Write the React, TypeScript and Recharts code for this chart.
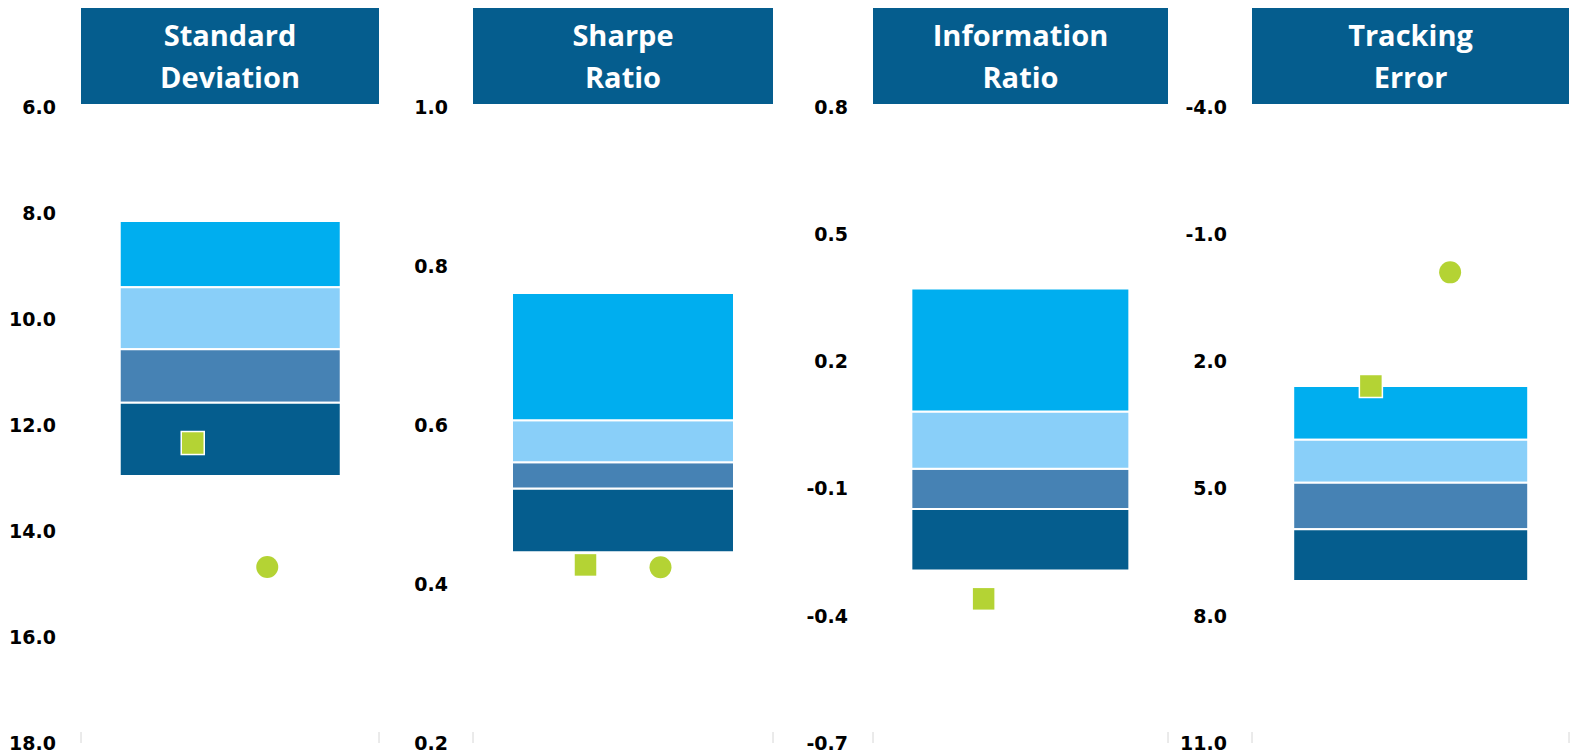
import React from 'react';
import { ComposedChart, Bar, Scatter, XAxis, YAxis } from 'recharts';

// ---------- data ----------
const panelTitles: string[][] = [
  ['Standard', 'Deviation'],
  ['Sharpe', 'Ratio'],
  ['Information', 'Ratio'],
  ['Tracking', 'Error'],
];
const panelKeys = ['sd', 'sharpe', 'ir', 'te'];

// quartile boundaries, listed from the top of the bar to its bottom
const sdBounds = [8.15, 9.4, 10.57, 11.58, 12.96];
const sharpeBounds = [0.766, 0.606, 0.553, 0.52, 0.44];
const irBounds = [0.372, 0.082, -0.053, -0.148, -0.293];
const teBounds = [2.58, 3.85, 4.86, 5.96, 7.18];

// marker values per panel (square = fund, circle = benchmark)
const squareValues = [12.34, 0.424, -0.36, 2.58];
const circleValues: (number | null)[] = [14.68, 0.421, null, -0.1];

// axis ticks
const sdTicks = [6, 8, 10, 12, 14, 16, 18];
const sharpeTicks = [0.2, 0.4, 0.6, 0.8, 1.0];
const irTicks = [-0.7, -0.4, -0.1, 0.2, 0.5, 0.8];
const teTicks = [-4, -1, 2, 5, 8, 11];
const reversedAxes = [true, false, false, true];

// ---------- styling / layout ----------
const QUARTILE_COLORS = ['#00AEEF', '#89CFF9', '#4682B4', '#055D8E'];
const HEADER_BG = '#055D8E';
const MARKER_GREEN = '#B4D334';
const SQUARE_SLOT = 0.375;
const CIRCLE_SLOT = 0.625;

const layout = [
  { left: 81, right: 379 },
  { left: 473, right: 773 },
  { left: 873, right: 1168 },
  { left: 1252, right: 1569 },
];
const Y_AXIS_W = 80;
const PLOT_TOP = 107;
const PLOT_H = 636;
const M_TOP = 20;
const M_BOTTOM = 11;

const allBounds = [sdBounds, sharpeBounds, irBounds, teBounds];
const allTicks = [sdTicks, sharpeTicks, irTicks, teTicks];

function buildStack(bounds: number[], reversed: boolean, key: string) {
  const asc = [...bounds].sort((a, b) => a - b);
  const row: Record<string, number | string> = { name: key, base: asc[0] };
  const colors: string[] = [];
  for (let i = 0; i < 4; i++) {
    row['s' + i] = asc[i + 1] - asc[i];
    colors.push(reversed ? QUARTILE_COLORS[i] : QUARTILE_COLORS[3 - i]);
  }
  return { rows: [row], colors };
}

const SquareShape = (props: any) => {
  const { cx, cy } = props;
  if (cx == null || cy == null || isNaN(cx) || isNaN(cy)) return <g />;
  return (
    <rect
      x={cx - 11.5}
      y={cy - 11.5}
      width={23}
      height={23}
      fill={MARKER_GREEN}
      stroke="#ffffff"
      strokeWidth={1.5}
    />
  );
};

const CircleShape = (props: any) => {
  const { cx, cy } = props;
  if (cx == null || cy == null || isNaN(cx) || isNaN(cy)) return <g />;
  return <circle cx={cx} cy={cy} r={11} fill={MARKER_GREEN} />;
};

function Panel({ index }: { index: number }) {
  const { left, right } = layout[index];
  const bandW = right - left;
  const reversed = reversedAxes[index];
  const ticks = allTicks[index];
  const { rows, colors } = buildStack(allBounds[index], reversed, panelKeys[index]);
  const squareData = [{ x: SQUARE_SLOT, y: squareValues[index] }];
  const cv = circleValues[index];
  const circleData = cv == null ? [] : [{ x: CIRCLE_SLOT, y: cv }];
  const width = Y_AXIS_W + bandW + 3;
  const height = M_TOP + PLOT_H + M_BOTTOM;

  return (
    <div
      style={{
        position: 'absolute',
        left: left - Y_AXIS_W,
        top: PLOT_TOP - M_TOP,
        width,
        height,
      }}
    >
      <ComposedChart
        width={width}
        height={height}
        data={rows}
        margin={{ top: M_TOP, right: 3, bottom: M_BOTTOM, left: 0 }}
        barCategoryGap="13%"
      >
        <XAxis xAxisId="cat" dataKey="name" type="category" hide />
        <XAxis
          xAxisId="pos"
          dataKey="x"
          type="number"
          domain={[0, 1]}
          ticks={[0, 1]}
          allowDataOverflow
          axisLine={false}
          tickFormatter={() => ''}
          tick={{ fontSize: 1, fill: 'none' }}
          tickLine={{ stroke: '#d6d6d6', strokeWidth: 1 }}
          tickSize={11}
          mirror
          height={20}
        />
        <YAxis
          type="number"
          domain={[ticks[0], ticks[ticks.length - 1]]}
          ticks={ticks}
          reversed={reversed}
          allowDataOverflow
          width={Y_AXIS_W}
          axisLine={false}
          tickLine={false}
          tickSize={0}
          tickMargin={25}
          interval={0}
          tickFormatter={(v: number) => v.toFixed(1)}
          tick={{
            fontFamily: 'DejaVu Sans',
            fontWeight: 700,
            fontSize: 19,
            fill: '#000000',
          }}
        />
        <Bar
          xAxisId="cat"
          dataKey="base"
          stackId="q"
          fill="transparent"
          stroke="none"
          isAnimationActive={false}
        />
        {[0, 1, 2, 3].map((i) => (
          <Bar
            key={i}
            xAxisId="cat"
            dataKey={'s' + i}
            stackId="q"
            fill={colors[i]}
            stroke="#ffffff"
            strokeWidth={2}
            isAnimationActive={false}
          />
        ))}
        <Scatter
          xAxisId="pos"
          data={squareData}
          dataKey="y"
          shape={SquareShape}
          isAnimationActive={false}
        />
        {circleData.length > 0 && (
          <Scatter
            xAxisId="pos"
            data={circleData}
            dataKey="y"
            shape={CircleShape}
            isAnimationActive={false}
          />
        )}
      </ComposedChart>
    </div>
  );
}

function Header({ index }: { index: number }) {
  const { left, right } = layout[index];
  return (
    <div
      style={{
        position: 'absolute',
        left,
        top: 8,
        width: right - left,
        height: 96,
        background: HEADER_BG,
        color: '#ffffff',
        fontFamily: '"Open Sans", sans-serif',
        fontWeight: 700,
        fontSize: 29,
        lineHeight: '42px',
        display: 'flex',
        flexDirection: 'column',
        alignItems: 'center',
        justifyContent: 'center',
        textAlign: 'center',
      }}
    >
      {panelTitles[index].map((t) => (
        <div key={t}>{t}</div>
      ))}
    </div>
  );
}

export default function App() {
  return (
    <div
      style={{
        position: 'absolute',
        left: 0,
        top: 0,
        width: 1576,
        height: 754,
        background: '#ffffff',
        overflow: 'hidden',
      }}
    >
      {[0, 1, 2, 3].map((i) => (
        <Header key={'h' + i} index={i} />
      ))}
      {[0, 1, 2, 3].map((i) => (
        <Panel key={'p' + i} index={i} />
      ))}
    </div>
  );
}
